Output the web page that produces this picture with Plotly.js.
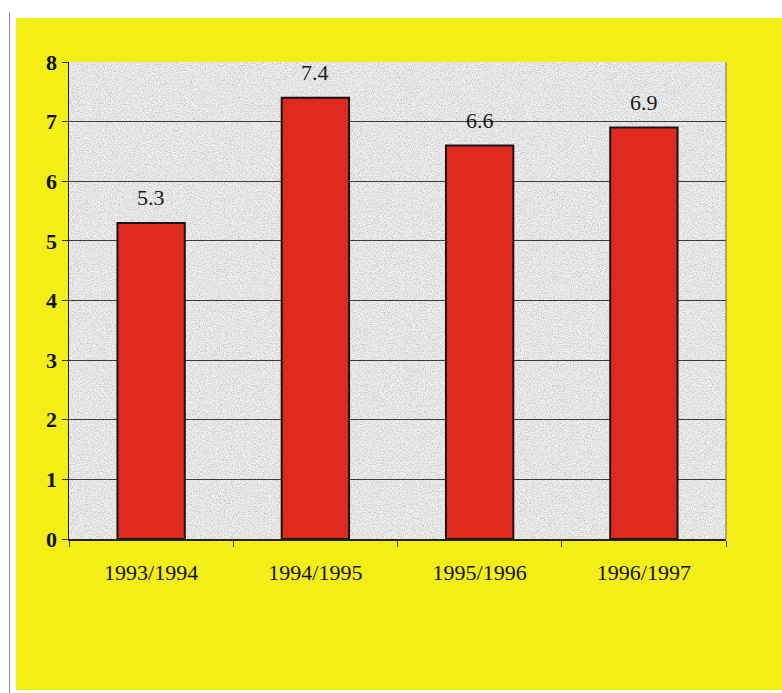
<!DOCTYPE html>
<html>
<head>
<meta charset="utf-8">
<script src="https://cdn.plot.ly/plotly-3.0.1.min.js"></script>
<style>
  html, body { margin: 0; padding: 0; background: #ffffff; width: 782px; height: 693px; overflow: hidden; }
  #frame { position: absolute; left: 9px; top: 12px; width: 1px; height: 681px; background: #8a8a8a; }
  #chart { position: absolute; left: 16px; top: 18px; width: 766px; height: 672px; }
</style>
</head>
<body>
<div id="frame"></div>
<div id="chart"></div>
<script>
// Seasons and their values
const seasons = ["1993/1994", "1994/1995", "1995/1996", "1996/1997"];
const values = [5.3, 7.4, 6.6, 6.9];
const yTicks = [0, 1, 2, 3, 4, 5, 6, 7, 8];

// Speckled grey texture for the plotting area
const noiseSvg =
  "<svg xmlns='http://www.w3.org/2000/svg' width='657' height='477'>" +
  "<filter id='n' x='0' y='0' width='100%' height='100%'>" +
  "<feTurbulence type='fractalNoise' baseFrequency='0.85' numOctaves='2' seed='7'/>" +
  "<feColorMatrix type='matrix' values='0 0 0 0 0.42  0 0 0 0 0.42  0 0 0 0 0.42  1.6 0 0 0 -0.62'/>" +
  "</filter>" +
  "<rect width='100%' height='100%' fill='#f1f1f1'/>" +
  "<rect width='100%' height='100%' filter='url(#n)'/>" +
  "</svg>";
const noiseUri = "data:image/svg+xml;charset=utf-8," + encodeURIComponent(noiseSvg);

const serif = "'Liberation Serif', 'Times New Roman', serif";

const trace = {
  type: "bar",
  x: seasons,
  y: values,
  width: 0.41,
  marker: { color: "#e0291f", line: { color: "#161616", width: 2 } },
  hoverinfo: "x+y"
};

const annotations = seasons.map((s, i) => ({
  x: s,
  y: values[i],
  xref: "x",
  yref: "y",
  text: values[i].toFixed(1),
  showarrow: false,
  yshift: 25,
  font: { family: serif, size: 22, color: "#1a1a1a" }
}));

const layout = {
  width: 766,
  height: 672,
  margin: { l: 53, r: 56, t: 44, b: 151 },
  paper_bgcolor: "#f4ee17",
  plot_bgcolor: "#e6e6e6",
  showlegend: false,
  bargap: 0.59,
  xaxis: {
    type: "category",
    tickson: "boundaries",
    ticks: "outside",
    ticklen: 6,
    tickcolor: "#333333",
    showline: true,
    linecolor: "#222222",
    linewidth: 1.5,
    showgrid: false,
    ticklabelstandoff: 13,
    tickfont: { family: serif, size: 22, color: "#111111" },
    fixedrange: true
  },
  yaxis: {
    range: [0, 8],
    tickvals: yTicks,
    ticktext: yTicks.map(String),
    ticks: "outside",
    ticklen: 6,
    tickcolor: "#333333",
    showline: true,
    linecolor: "#222222",
    linewidth: 1.5,
    mirror: false,
    showgrid: true,
    gridcolor: "#3c3c3c",
    gridwidth: 1,
    zeroline: false,
    tickfont: { family: serif, size: 22, color: "#111111", weight: "bold" },
    fixedrange: true
  },
  shapes: [
    // right edge of the plotting area
    { type: "line", xref: "paper", yref: "paper", x0: 1, x1: 1, y0: 0, y1: 1,
      line: { color: "#6a6a6a", width: 1 } }
  ],
  images: [
    { source: noiseUri, xref: "paper", yref: "paper", x: 0, y: 1,
      sizex: 1, sizey: 1, sizing: "stretch", xanchor: "left", yanchor: "top",
      layer: "below" }
  ],
  annotations: annotations
};

Plotly.newPlot("chart", [trace], layout, { displayModeBar: false, staticPlot: true });
</script>
</body>
</html>
